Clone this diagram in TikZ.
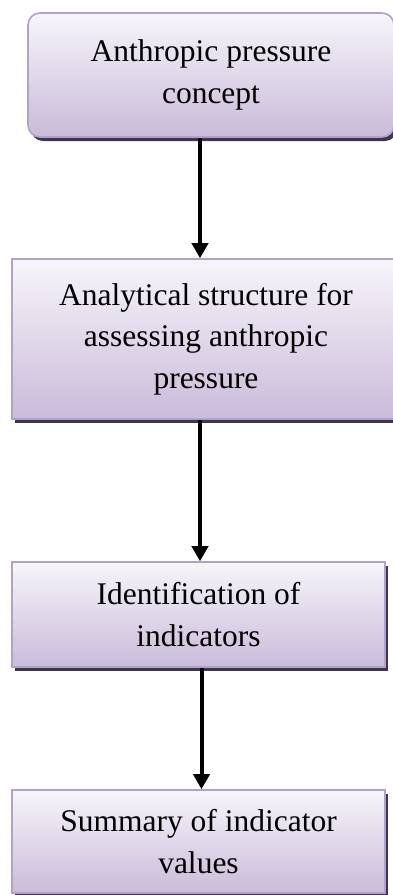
\documentclass[tikz,border=0pt]{standalone}
\usepackage{fontspec}
\setmainfont{Liberation Serif}
\usetikzlibrary{arrows.meta,shadows}
\definecolor{boxborder}{HTML}{B3A2C7}
\definecolor{boxtop}{HTML}{F7F5FA}
\definecolor{boxbot}{HTML}{CABBDA}
\definecolor{shadowcol}{HTML}{3F3550}
\begin{document}
\begin{tikzpicture}[x=1pt,y=-1pt,
  flowbox/.style={draw=boxborder, line width=1.6pt, top color=boxtop, bottom color=boxbot,
    align=center, inner sep=0pt, font=\fontsize{31.5}{41.5}\selectfont,
    drop shadow={shadow xshift=3pt, shadow yshift=-4pt, fill=shadowcol, opacity=1}},
  arr/.style={line width=4pt, -{Triangle[width=16pt,length=15pt]}}]
\useasboundingbox (0,0) rectangle (393,895);
\begin{scope}
\clip (0,0) rectangle (393,895);
\node[flowbox, rounded corners=12pt, minimum width=366pt, minimum height=124pt] (b1) at (211,75) {Anthropic pressure\\concept};
\node[flowbox, minimum width=388pt, minimum height=160pt] (b2) at (206,339) {Analytical structure for\\assessing anthropic\\pressure};
\node[flowbox, minimum width=373pt, minimum height=105pt] (b3) at (198.5,614.5) {Identification of\\indicators};
\node[flowbox, minimum width=373pt, minimum height=103pt] (b4) at (198.5,841.5) {Summary of indicator\\values};
\end{scope}
\coordinate (ax) at (200,0);
\coordinate (bx) at (201.5,0);
\draw[arr] (b1.south -| ax) -- (b2.north -| ax);
\draw[arr] (b2.south -| ax) -- (b3.north -| ax);
\draw[arr] (b3.south -| bx) -- (b4.north -| bx);
\end{tikzpicture}
\end{document}
